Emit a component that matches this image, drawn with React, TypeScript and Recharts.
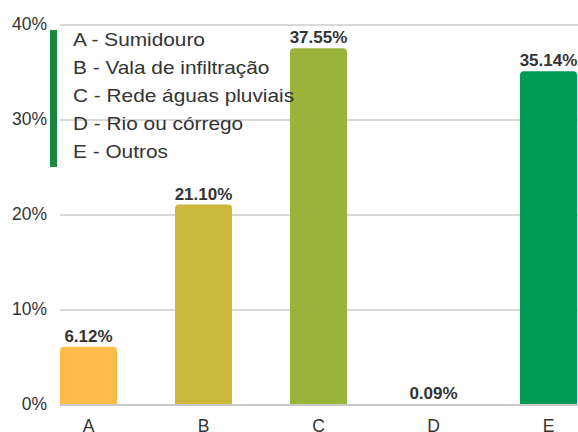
import React from "react";
import { BarChart, Bar, XAxis, YAxis, CartesianGrid, Cell, LabelList } from "recharts";

const categories = ["A", "B", "C", "D", "E"];
const values = [6.12, 21.1, 37.55, 0.09, 35.14];
const colors = ["#FDBB4A", "#CCB93C", "#9AB33B", "#8FD27C", "#009A55"];
const legendLabels = [
  "A - Sumidouro",
  "B - Vala de infiltração",
  "C - Rede águas pluviais",
  "D - Rio ou córrego",
  "E - Outros",
];
const yTicks = [0, 10, 20, 30, 40];

const data = categories.map((c, i) => ({ name: c, value: values[i] }));

const FONT = "'Liberation Sans', Arial, sans-serif";

export default function App() {
  return (
    <div style={{ position: "absolute", left: 0, top: 0, width: 578, height: 432, overflow: "hidden", background: "#fff", fontFamily: FONT }}>
      <BarChart
        width={578}
        height={432}
        data={data}
        margin={{ top: 25, right: 0, left: 0, bottom: 0 }}
      >
        <CartesianGrid vertical={false} stroke="#cccccc" strokeWidth={1.5} />
        <XAxis
          dataKey="name"
          height={27}
          padding={{ left: -29, right: -28 }}
          axisLine={{ stroke: "#c8c8c8", strokeWidth: 2 }}
          tickLine={false}
          tickSize={0}
          tickMargin={15}
          tick={{ fill: "#333", fontSize: 17.5, fontFamily: FONT }}
          interval={0}
        />
        <YAxis
          width={60}
          domain={[0, 40]}
          ticks={yTicks}
          axisLine={false}
          tickLine={false}
          tickSize={6}
          tickMargin={7}
          tickFormatter={(v: number) => `${v}%`}
          tick={{ fill: "#333", fontSize: 17.5, fontFamily: FONT, dy: -1 }}
        />
        <Bar dataKey="value" barSize={57} radius={[4, 4, 0, 0]} isAnimationActive={false}>
          {data.map((d, i) => (
            <Cell key={d.name} fill={colors[i]} />
          ))}
          <LabelList
            dataKey="value"
            position="top"
            offset={5}
            formatter={(v: number) => `${v.toFixed(2)}%`}
            style={{ fill: "#333", fontSize: 17, fontWeight: 700, fontFamily: FONT }}
          />
        </Bar>
      </BarChart>
      <div style={{ position: "absolute", left: 50, top: 30, width: 7, height: 137, background: "#1B873F" }} />
      <div style={{ position: "absolute", left: 73, top: 26, fontSize: 18.6, transform: "scaleX(1.12)", transformOrigin: "0 0", lineHeight: "28px", color: "#333", fontFamily: FONT, whiteSpace: "nowrap" }}>
        {legendLabels.map((l) => (
          <div key={l}>{l}</div>
        ))}
      </div>
    </div>
  );
}
